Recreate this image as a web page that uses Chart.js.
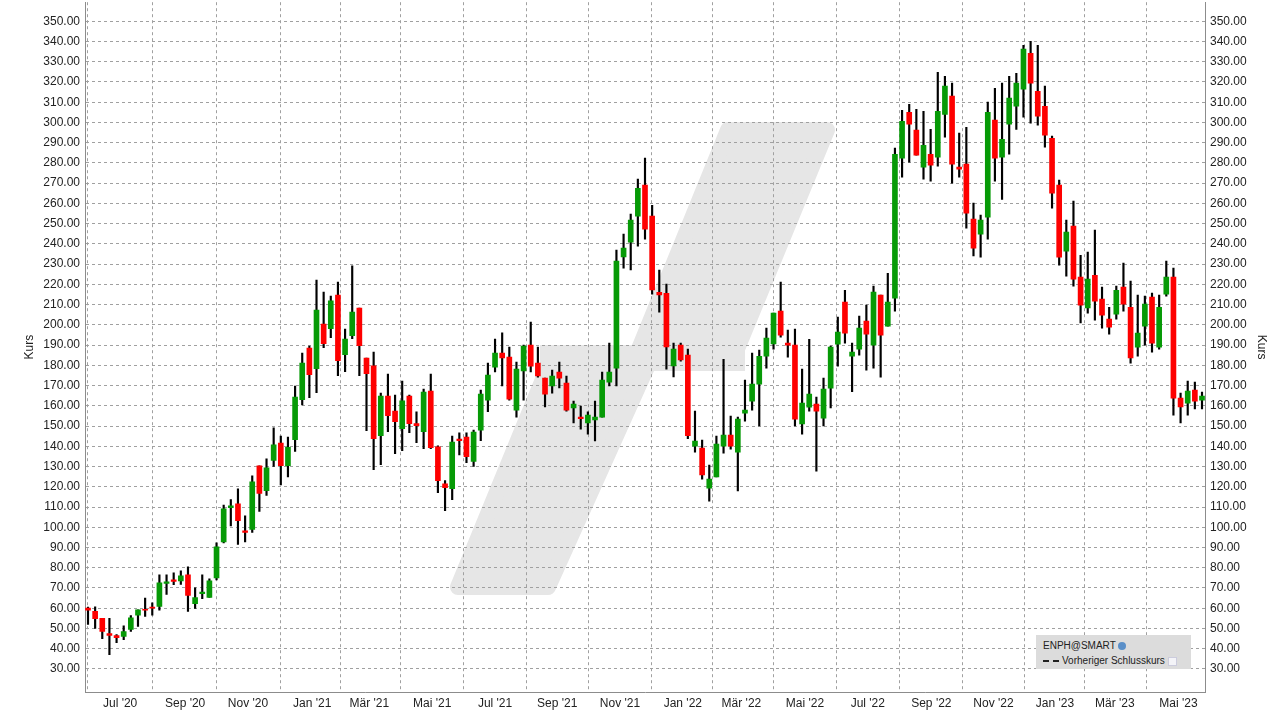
<!DOCTYPE html>
<html lang="de">
<head>
<meta charset="UTF-8">
<title>ENPH Kurs</title>
<style>
  body { margin: 0; background: #fff; font-family: 'Liberation Sans', Arial, sans-serif; overflow: hidden; }
  #wrap { position: relative; width: 1281px; height: 719px; overflow: hidden; }
  .legend {
    position: absolute; left: 1036px; top: 635px; width: 155px; height: 34px;
    background: #dcdcdc; font-size: 10px; color: #222; line-height: 15px; padding: 3px 0 0 7px; box-sizing: border-box;
  }
  .legend .dash { display: inline-block; width: 16px; border-top: 2px dashed #222; vertical-align: middle; margin-right: 3px; }
  .legend .sq { display: inline-block; width: 7px; height: 7px; background: #f4f4f8; border: 1px solid #ccd; vertical-align: middle; }
  .legend .globe { display: inline-block; width: 8px; height: 8px; border-radius: 50%; background: #5a8fc8; vertical-align: middle; }
  #c { position: absolute; left: 0; top: -10px; }
</style>
</head>
<body>
<div id="wrap">
  <canvas id="c" width="1281" height="729"></canvas>
  <div class="legend">
    <div>ENPH@SMART <span class="globe"></span></div>
    <div><span class="dash"></span>Vorheriger Schlusskurs <span class="sq"></span></div>
  </div>
</div>
<script src="https://cdn.jsdelivr.net/npm/chart.js@4.4.0/dist/chart.umd.min.js"></script>
<script>
// weekly candles, Jun 2020 - May 2023
const opens = [60,58.5,55,47.5,46.5,46,49.5,56.5,59.5,60.6,60.9,72.3,74,73.5,76.5,62.3,67.2,65.3,75,92.8,109.7,111.6,98.2,98.9,130.3,118.1,133,
  141.6,130.4,143.3,163,188.5,178.3,200.4,198.1,214.7,185.3,194.6,208.3,183.6,179.7,145.3,164.8,157.4,148.7,164.8,151.2,147.2,167.3,139.7,121.4,119.1,143.6,144.6,
  132.5,148,162.8,179.1,186.1,184.1,157.9,177.2,190,181.1,173.7,169.8,176.7,171.2,158.9,154.4,151.5,153,154.4,171.7,178.6,233.5,240.9,253.7,269,253.7,216.1,
  215.6,179.7,190,185,140.1,139.1,119.3,124.8,140.1,145.5,137.1,156.3,162.3,170.7,184.5,190.6,206.8,191,190,151,159.3,160.8,153.9,168.7,190.5,211.2,
  184.5,188,201.8,190,214.7,199.4,213.2,282.3,305,296.2,277.9,284.3,282.8,304,313,277.9,279.4,252.2,244.8,253.2,301.1,282.8,299.1,308,316.4,334.2,315.4,
  308,292.2,269,236.4,248.8,223.6,208.3,224.5,212.7,202.8,205.3,218.6,208.7,189,199.4,213.7,189,215.2,223.6,163.8,161.3,167.8,162.8];
const highs = [60.5,60.7,55,55,47,51.3,56.3,59.2,65,62.7,76.5,76.5,77.5,78.5,80.5,70.1,76.5,74.5,92.3,111,113.7,119,105.6,125.4,130.3,133.8,149.1,
  145.1,144.6,169.8,186.1,189.5,222.1,216.2,214.2,221.1,197.9,229.2,208.3,183.6,186.6,166.3,175.7,165.3,172.2,165.3,157,168.3,175.7,140.2,123,145.1,146.6,146.6,
  148,167.8,181.1,193,196,189,181.6,190,201.4,189,173.7,177.7,181.6,174.7,162.3,159.9,157,162.3,176.7,191,236.9,244.8,254.7,272,282.4,259.1,227,
  220.1,191,191,188,157.4,143.1,130.7,145,183,154.9,154.4,172.7,186,187.5,198.4,205.8,221.1,197.4,197.9,178.1,192.9,164.3,173.7,189.5,203.8,217.1,
  191,204.3,209.7,219.1,214.7,225.5,287.3,306,309,306.5,305.5,296.6,324.8,322.8,319.4,294.7,297.6,260.1,254.2,310,316.9,319.4,322.8,324.3,338.1,340.1,338.1,
  317.9,293.2,271.5,251.7,261.1,234.4,235.9,246.8,218.6,208.7,219.1,230.5,221.6,214.7,214.2,215.7,214.7,231.5,228,166.3,172.2,171.7,166.8];
const lows = [52,50,45,37,43,44.5,48.5,51,56,56.5,59,66.8,71.6,71.7,58.4,59.9,64.7,65.3,74,92.3,100.7,91.5,92.8,97.4,107.8,115.7,130,
  120.9,124.8,137.4,160.4,164,166.5,188.7,193.6,174.9,176.9,193.2,174.9,147.7,128.5,130.9,147.2,136.4,137.8,146.7,141.8,138.8,138.8,117.1,108.2,113.6,135.7,131.9,
  130,142.8,157.1,176.7,169.8,162.8,154.4,162.8,176.7,174.2,159.4,166.3,168.8,157.4,151.5,148.5,146,142.6,154.4,169.8,169.8,228,227.1,238.9,242.3,215.2,206.3,
  178.1,174.3,182,143.7,137.1,123.8,112.9,124.8,136.6,138.6,118,152.4,157.9,150,178.6,188,193.9,184,150,146,157.4,127.7,150,158.9,179.6,191,
  167,185,177.6,178.6,174.2,199.4,206.8,273,280.4,283.8,272,271,278.4,292.7,270,273,247.8,234,233.4,242.3,271,262,284.3,296.6,302.6,299.6,298.6,
  287.8,257.6,229.5,224,219.1,200.9,205.8,202.3,198.4,195.4,202.8,206.8,181.1,184.5,190,186.5,188,214.2,155.4,151.5,155.4,158.4,158.4];
const closes = [59,54.8,48.5,46.5,45.5,48.5,55.3,59.2,59,60,72.5,73,73.2,76,66.3,65.2,68,73.5,90.3,109.1,110.6,103.3,97.4,122.4,116.7,129.3,140.7,
  130.4,139.5,164.3,181.1,175.4,207.3,190.7,211.8,182.3,193,206.3,189.7,175.9,143.8,164.8,155.1,152.2,162.4,151.2,150.2,166.8,139.3,123,119.6,142.1,142.8,134.9,
  147,165.8,175.2,186.1,183.6,163.3,178.2,189.5,179.6,174.7,165.8,174.7,173.7,157.9,160.9,153.6,155.4,154.4,172.7,176.7,231.5,237.9,251.7,267.5,247.3,217.2,214.8,
  189.1,188,182.7,145.2,142.6,125.9,123.8,141.1,145.5,140.1,153.4,157.9,170.7,184.5,193.4,205.8,194.9,190,153.4,161.3,165.8,157.4,168.2,189,196.4,195.9,
  186.6,198.4,195.4,216.2,194.9,211.2,284.3,300.6,299.1,283.8,288.7,278.9,305.5,317.9,279.4,276.9,255.2,237.9,251.7,305,282.3,291.7,312,319.4,336.2,319.4,303.1,
  293.7,265,233.4,245.8,222.6,209.7,222.6,211.7,204.8,198.9,217.1,210.2,183.6,195.9,210.2,191,208.7,223.6,163.8,159.4,167.3,162.3,164.8];
const monthLabels = ["Jul '20","Sep '20","Nov '20","Jan '21","Mär '21","Mai '21","Jul '21","Sep '21","Nov '21","Jan '22","Mär '22","Mai '22","Jul '22","Sep '22","Nov '22","Jan '23","Mär '23","Mai '23"];
const monthPos = [4.5,13.6,22.4,31.4,39.4,48.2,57,65.7,74.5,83.3,91.5,100.4,109.2,118.1,126.8,135.4,143.8,152.7];
const priceTicks = [];
for (let v = 30; v <= 350; v += 10) priceTicks.push(v);

const up = '#069a06', down = '#fe0000';
const bodyColors = opens.map((o, i) => closes[i] >= o ? up : down);

// grey logo watermark behind the grid (canvas is shifted up 10px)
const watermark = {
  id: 'watermark',
  beforeDraw(chart) {
    const ctx = chart.ctx;
    ctx.save();
    ctx.translate(0, 10);
    ctx.fillStyle = '#e6e6e6';
    ctx.strokeStyle = '#e6e6e6';
    ctx.lineJoin = 'round';
    ctx.lineWidth = 16;
    const shapes = [
      [[728,130],[827,130],[737,349],[639,349]],
      [[548,367],[647,367],[548,587],[458,587]]
    ];
    for (const s of shapes) {
      ctx.beginPath();
      s.forEach((p, i) => i ? ctx.lineTo(p[0], p[1]) : ctx.moveTo(p[0], p[1]));
      ctx.closePath();
      ctx.fill();
      ctx.stroke();
    }
    ctx.fillRect(540, 345, 205, 26);
    ctx.restore();
  }
};

const tickFont = { family: 'Liberation Sans', size: 12 };
const dashed = { display: true, color: '#8c8c8c', dash: [3, 3] };

new Chart(document.getElementById('c'), {
  type: 'bar',
  data: {
    datasets: [
      {
        label: 'wick',
        data: lows.map((l, i) => ({ x: i, y: [l, highs[i]] })),
        backgroundColor: '#000',
        barThickness: 1.5,
        grouped: false,
        order: 2
      },
      {
        label: 'body',
        data: opens.map((o, i) => ({ x: i, y: [o, closes[i]] })),
        backgroundColor: bodyColors,
        barThickness: 5,
        grouped: false,
        order: 1,
        minBarLength: 1
      }
    ]
  },
  options: {
    responsive: false,
    animation: false,
    plugins: { legend: { display: false }, tooltip: { enabled: false } },
    scales: {
      x: {
        type: 'linear', min: -0.42, max: 156.42, offset: false,
        afterBuildTicks: s => { s.ticks = monthPos.map(v => ({ value: v })); },
        afterFit: s => { s.height = 27; },
        ticks: { autoSkip: false, maxRotation: 0, color: '#222', padding: 4, font: tickFont,
          callback: (v, i) => monthLabels[i] },
        grid: { color: '#a0a0a0', tickLength: 0 },
        border: dashed
      },
      y: {
        position: 'left', min: 18.6, max: 359.4,
        afterBuildTicks: s => { s.ticks = priceTicks.map(v => ({ value: v })); },
        afterFit: s => { s.width = 85; },
        ticks: { color: '#222', font: tickFont, padding: 5, callback: v => v.toFixed(2) },
        title: { display: true, text: 'Kurs', color: '#222', font: tickFont, padding: { top: 22, bottom: 0 } },
        grid: { color: '#a0a0a0', tickLength: 0 },
        border: dashed
      },
      y2: {
        position: 'right', min: 18.6, max: 359.4,
        afterBuildTicks: s => { s.ticks = priceTicks.map(v => ({ value: v })); },
        afterFit: s => { s.width = 76; },
        ticks: { color: '#222', font: tickFont, padding: 5, callback: v => v.toFixed(2) },
        title: { display: true, text: 'Kurs', color: '#222', font: tickFont, padding: { top: 12, bottom: 0 } },
        grid: { drawOnChartArea: false, tickLength: 0 },
        border: { display: true, color: '#8c8c8c' }
      }
    }
  },
  plugins: [watermark]
});
</script>
</body>
</html>
